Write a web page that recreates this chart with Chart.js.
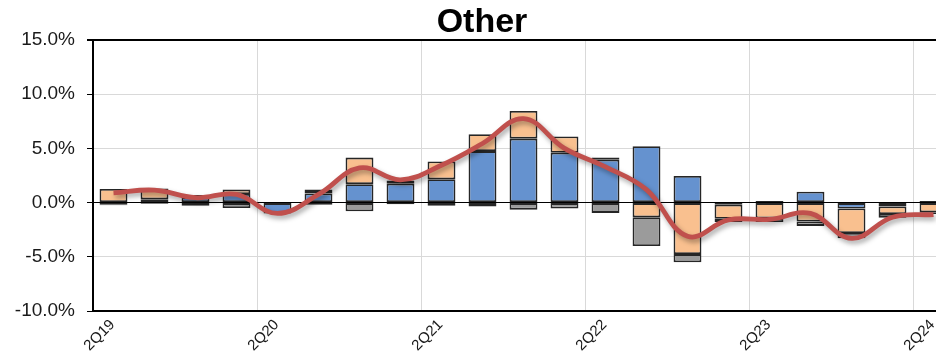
<!DOCTYPE html>
<html>
<head>
<meta charset="utf-8">
<title>Other</title>
<script src="https://cdn.jsdelivr.net/npm/chart.js@4.4.1/dist/chart.umd.min.js"></script>
<style>
  html, body { margin: 0; padding: 0; background: #ffffff; overflow: hidden; }
  #wrap { width: 964px; height: 353px; }
</style>
</head>
<body>
<div id="wrap"><canvas id="chart" width="964" height="353"></canvas></div>
<script>
// Quarterly categories
const quarters = ['2Q19','3Q19','4Q19','1Q20','2Q20','3Q20','4Q20','1Q21','2Q21','3Q21','4Q21',
                  '1Q22','2Q22','3Q22','4Q22','1Q23','2Q23','3Q23','4Q23','1Q24','2Q24'];

// Stacked components (percentage points)
const blueComponent   = [-0.2, 0.3, 0.5, 0.8, -1.0, 0.85, 1.7, 1.75, 2.15, 4.75, 5.9,
                         4.6, 3.95, 5.2, 2.45, -0.2, 0.15, 1.0, -0.55, -0.35, 0.15];
const orangeComponent = [1.25, 1.0, 0.2, 0.4, null, 0.35, 2.45, 0.3, 1.65, 1.55, 2.55,
                         1.5, 0.2, -1.35, -4.75, -1.3, -1.45, -1.75, -2.25, -0.7, -0.9];
const grayComponent   = [-0.05, -0.1, -0.3, -0.5, null, -0.2, -0.8, -0.15, -0.3, -0.35, -0.65,
                         -0.55, -0.95, -2.65, -0.75, -0.3, -0.35, -0.4, -0.5, -0.35, -0.15];

// Smoothed total line
const totalLine = [0.9, 1.15, 0.45, 0.75, -1.0, 0.75, 3.2, 2.1, 3.45, 5.45, 7.75,
                   5.0, 3.3, 1.2, -3.1, -1.6, -1.55, -1.0, -3.3, -1.35, -1.1];

// Y axis range and step
const yMin = -10, yMax = 15, yStep = 5;

const FONT = '"Liberation Sans", Arial, sans-serif';

// Soft drop shadow under the line series
const lineShadow = {
  id: 'lineShadow',
  beforeDatasetDraw(chart, args) {
    if (chart.data.datasets[args.index].type === 'line') {
      const ctx = chart.ctx;
      ctx.save();
      ctx.shadowColor = 'rgba(0,0,0,0.35)';
      ctx.shadowBlur = 5;
      ctx.shadowOffsetX = 2;
      ctx.shadowOffsetY = 3;
    }
  },
  afterDatasetDraw(chart, args) {
    if (chart.data.datasets[args.index].type === 'line') {
      chart.ctx.restore();
    }
  }
};

const barStyle = {
  type: 'bar',
  borderColor: '#262626',
  borderWidth: 1.8,
  borderSkipped: false,
  categoryPercentage: 1.0,
  barPercentage: 0.68,
  order: 1
};

new Chart(document.getElementById('chart'), {
  data: {
    labels: quarters,
    datasets: [
      {
        type: 'line',
        data: totalLine,
        borderColor: '#c0504d',
        borderWidth: 4.8,
        pointRadius: 0,
        tension: 0.4,
        fill: false,
        order: 0
      },
      Object.assign({ data: blueComponent, backgroundColor: '#6592cf' }, barStyle),
      Object.assign({ data: orangeComponent, backgroundColor: '#f9c08f' }, barStyle),
      Object.assign({ data: grayComponent, backgroundColor: '#9b9b9b' }, barStyle)
    ]
  },
  options: {
    responsive: false,
    animation: false,
    devicePixelRatio: 1,
    layout: { padding: { left: 10, right: 10, top: 0, bottom: 0 } },
    plugins: {
      legend: { display: false },
      tooltip: { enabled: false },
      title: {
        display: true,
        text: 'Other',
        color: '#000',
        font: { family: FONT, size: 34, weight: 'bold', lineHeight: 1 },
        padding: { top: 6, bottom: 0 }
      }
    },
    scales: {
      x: {
        stacked: true,
        border: { display: true, color: '#000', width: 2 },
        grid: {
          offset: true,
          drawTicks: false,
          color: (c) => (c.index % 4 === 0 ? '#d9d9d9' : 'rgba(0,0,0,0)'),
          lineWidth: 1
        },
        ticks: {
          autoSkip: false,
          minRotation: 45,
          maxRotation: 45,
          padding: 5,
          labelOffset: -1,
          color: '#1a1a1a',
          font: { family: FONT, size: 15 },
          callback: function (value, index) {
            return index % 4 === 0 ? this.getLabelForValue(value) : '';
          }
        },
        afterFit: (scale) => { scale.height = 42; }
      },
      y: {
        stacked: true,
        min: yMin,
        max: yMax,
        border: { display: true, color: '#000', width: 2 },
        grid: {
          color: (c) => (c.tick && (c.tick.value === 0 || c.tick.value === yMax) ? '#000' : '#d9d9d9'),
          lineWidth: (c) => (c.tick && c.tick.value === yMax ? 2 : 1),
          tickColor: '#000',
          tickLength: 6
        },
        ticks: {
          stepSize: yStep,
          padding: 12,
          color: '#1a1a1a',
          font: { family: FONT, size: 19 },
          callback: (v) => v.toFixed(1) + '%'
        },
        afterFit: (scale) => { scale.width = 83; }
      }
    }
  },
  plugins: [lineShadow]
});
</script>
</body>
</html>
